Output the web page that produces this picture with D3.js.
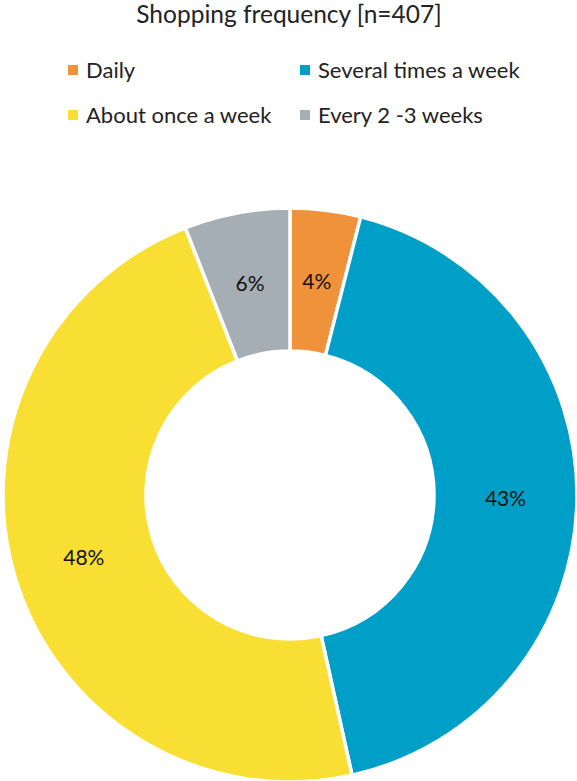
<!DOCTYPE html>
<html>
<head>
<meta charset="utf-8">
<script src="https://cdn.jsdelivr.net/npm/d3@7"></script>
<style>
  html, body { margin: 0; padding: 0; background: #fff; }
  svg { display: block; font-family: Lato, "Open Sans", sans-serif; }
</style>
</head>
<body>
<svg id="chart" width="577" height="781"></svg>
<script>
// Shopping frequency survey, share of respondents (%)
const categories = ["Daily", "Several times a week", "About once a week", "Every 2 -3 weeks"];
const shares = [4, 43, 48, 6];
const colors = ["#F0923A", "#009FC7", "#F9DF33", "#A5AEB4"];
const title = "Shopping frequency [n=407]";

const svg = d3.select("#chart");
const cx = 290, cy = 495;
const outerR = 287, innerR = 144;

// Title
svg.append("text")
  .attr("x", 289).attr("y", 23)
  .attr("text-anchor", "middle")
  .attr("font-size", 24.5)
  .attr("fill", "#222")
  .text(title);

// Legend: two columns, two rows
const legendX = d3.scaleOrdinal().domain([0, 1]).range([68, 300]);
const legendY = d3.scaleOrdinal().domain([0, 1]).range([70, 115]);
const legend = svg.append("g");
categories.forEach((c, i) => {
  const col = i % 2, row = Math.floor(i / 2);
  const g = legend.append("g")
    .attr("transform", `translate(${legendX(col)},${legendY(row)})`);
  g.append("rect").attr("x", 0).attr("y", -5).attr("width", 10).attr("height", 10)
    .attr("fill", colors[i]);
  g.append("text").attr("x", 18).attr("y", 7.5)
    .attr("font-size", 22).attr("fill", "#222").text(c);
});

// Donut
const pie = d3.pie().sort(null).value(d => d)(shares);
const arc = d3.arc().innerRadius(innerR).outerRadius(outerR);
const labelArc = d3.arc().innerRadius((innerR + outerR) / 2).outerRadius((innerR + outerR) / 2);
const fmt = d => d + "%";

const donut = svg.append("g").attr("transform", `translate(${cx},${cy})`);
donut.selectAll("path")
  .data(pie)
  .join("path")
  .attr("d", arc)
  .attr("fill", (d, i) => colors[i])
  .attr("stroke", "#fff")
  .attr("stroke-width", 3.5)
  .attr("stroke-linejoin", "miter");

donut.selectAll("text.val")
  .data(pie)
  .join("text")
  .attr("class", "val")
  .attr("transform", d => `translate(${labelArc.centroid(d)})`)
  .attr("text-anchor", "middle")
  .attr("dy", "0.36em")
  .attr("font-size", 21)
  .attr("fill", "#111")
  .text(d => fmt(d.data));
</script>
</body>
</html>
